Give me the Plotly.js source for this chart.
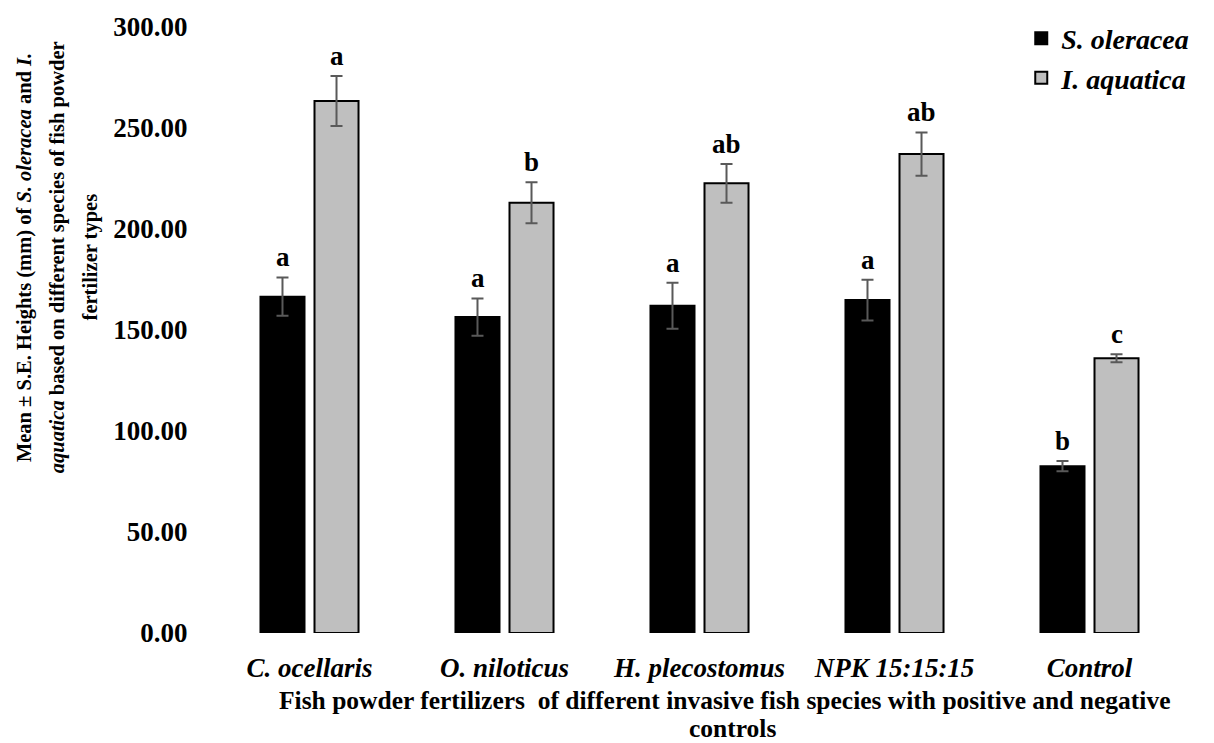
<!DOCTYPE html>
<html>
<head>
<meta charset="utf-8">
<script src="https://cdn.plot.ly/plotly-3.0.1.min.js"></script>
<style>html,body{margin:0;padding:0;background:#fff;}#chart{width:1214px;height:743px;}</style>
</head>
<body>
<div id="chart"></div>
<script>
// ---- data ----
var categories = ['C. ocellaris', 'O. niloticus', 'H. plecostomus', 'NPK 15:15:15', 'Control'];
var oleraceaMean = [166.5, 156.4, 162.0, 164.8, 82.6];
var oleraceaSE = [9.5, 9.2, 11.4, 10.1, 2.5];
var aquaticaMean = [263.4, 213.0, 222.6, 237.1, 136.0];
var aquaticaSE = [12.4, 10.1, 9.6, 10.7, 2.0];
var oleraceaLetters = ['a', 'a', 'a', 'a', 'b'];
var aquaticaLetters = ['a', 'b', 'ab', 'ab', 'c'];
var yTickVals = [0, 50, 100, 150, 200, 250, 300];

var FONT = 'Liberation Serif, Times New Roman, serif';

var traces = [
  {
    type: 'bar', name: '<i>S. oleracea</i>', x: categories, y: oleraceaMean,
    legendgroup: 'g1',
    marker: {color: '#000000', line: {color: '#000000', width: 2}},
    error_y: {type: 'data', array: oleraceaSE, visible: true, color: '#595959', thickness: 2, width: 6}
  },
  {
    type: 'bar', name: '<i>I. aquatica</i>', x: categories, y: aquaticaMean,
    legendgroup: 'g2',
    marker: {color: '#bfbfbf', line: {color: '#000000', width: 2}},
    error_y: {type: 'data', array: aquaticaSE, visible: true, color: '#595959', thickness: 2, width: 6}
  }
];

var annotations = [];
for (var i = 0; i < categories.length; i++) {
  annotations.push({xref: 'x', yref: 'y', x: categories[i], y: oleraceaMean[i] + oleraceaSE[i],
    xshift: -27, yshift: 3, yanchor: 'bottom', showarrow: false, text: '<b>' + oleraceaLetters[i] + '</b>',
    font: {family: FONT, size: 27, color: '#000'}});
  annotations.push({xref: 'x', yref: 'y', x: categories[i], y: aquaticaMean[i] + aquaticaSE[i],
    xshift: 27, yshift: 3, yanchor: 'bottom', showarrow: false, text: '<b>' + aquaticaLetters[i] + '</b>',
    font: {family: FONT, size: 27, color: '#000'}});
}
// y-axis title (three lines)
var yTitleLines = [
  '<b>Mean ± S.E. Heights (mm) of <i>S. oleracea</i> and <i>I.</i></b>',
  '<b><i>aquatica</i> based on different species of fish powder</b>',
  '<b>fertilizer types</b>'
];
var yTitleX = [-0.193, -0.159, -0.125];
for (var j = 0; j < yTitleLines.length; j++) {
  annotations.push({xref: 'paper', yref: 'paper', x: yTitleX[j], y: 0.62, xanchor: 'center', yanchor: 'middle',
    textangle: -90, showarrow: false, text: yTitleLines[j], font: {family: FONT, size: 20.5, color: '#000'}});
}
// x-axis title (two lines)
annotations.push({xref: 'paper', yref: 'paper', x: 0.526, y: -0.1122, xanchor: 'center', yanchor: 'middle',
  showarrow: false, text: '<b>Fish powder fertilizers  of different invasive fish species with positive and negative</b>',
  font: {family: FONT, size: 25.5, color: '#000'}});
annotations.push({xref: 'paper', yref: 'paper', x: 0.534, y: -0.1568, xanchor: 'center', yanchor: 'middle',
  showarrow: false, text: '<b>controls</b>', font: {family: FONT, size: 25.5, color: '#000'}});

var layout = {
  width: 1214, height: 743,
  margin: {l: 212, r: 27, t: 27, b: 110, autoexpand: false},
  paper_bgcolor: '#fff', plot_bgcolor: '#fff',
  barmode: 'group', bargap: 0.446, bargroupgap: 0.185,
  showlegend: true,
  legend: {x: 0.83, y: 1.022, xanchor: 'left', yanchor: 'top', traceorder: 'grouped', tracegroupgap: 0,
    font: {family: FONT, size: 28, color: '#000', weight: 'bold'}, bgcolor: 'rgba(0,0,0,0)'},
  xaxis: {
    type: 'category', range: [-0.5, 4.5], showgrid: false, zeroline: false, showline: false,
    ticks: 'outside', ticklen: 11, tickcolor: 'rgba(0,0,0,0)',
    tickfont: {family: FONT, size: 27, color: '#000', weight: 'bold', style: 'italic'}
  },
  yaxis: {
    range: [0, 300], tickvals: yTickVals, tickformat: '.2f', showgrid: false, zeroline: false, showline: false,
    ticks: 'outside', ticklen: 18, tickcolor: 'rgba(0,0,0,0)',
    tickfont: {family: FONT, size: 27, color: '#000', weight: 'bold'}
  },
  annotations: annotations
};

Plotly.newPlot('chart', traces, layout, {displayModeBar: false, staticPlot: true});
</script>
</body>
</html>
